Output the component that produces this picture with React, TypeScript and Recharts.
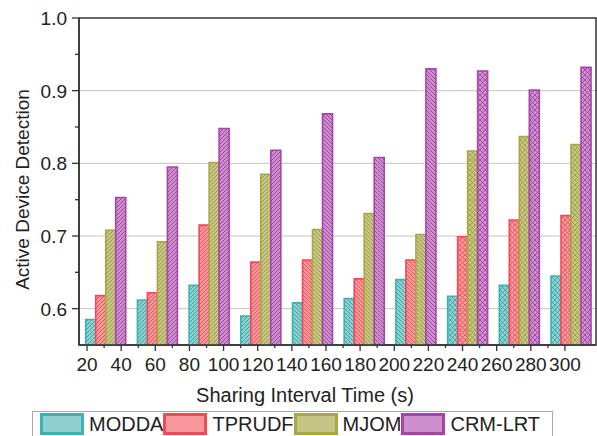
import React from 'react';
import * as Recharts from 'recharts';
import { BarChart, Bar, Cell, XAxis, YAxis, CartesianGrid, Legend } from 'recharts';

// bar groups (the time axis below is drawn separately with its own ticks)
const groups = ['g1', 'g2', 'g3', 'g4', 'g5', 'g6', 'g7', 'g8', 'g9', 'g10'];
const timeTicks = [20, 40, 60, 80, 100, 120, 140, 160, 180, 200, 220, 240, 260, 280, 300];
const timeRange = [15.3, 318.2];
const yTicks = [0.6, 0.7, 0.8, 0.9, 1.0];

const modda = [0.585, 0.612, 0.632, 0.59, 0.608, 0.614, 0.64, 0.617, 0.632, 0.645];
const tprudf = [0.618, 0.622, 0.715, 0.664, 0.667, 0.641, 0.667, 0.699, 0.722, 0.728];
const mjom = [0.708, 0.692, 0.801, 0.785, 0.709, 0.731, 0.702, 0.817, 0.837, 0.826];
const crmLrt = [0.753, 0.795, 0.848, 0.818, 0.868, 0.808, 0.93, 0.927, 0.901, 0.932];

const SERIES = [
  { key: 'modda', name: 'MODDA', fill: '#8fcfcf', stroke: '#3cb2b2', hatch: '#2fa2a2' },
  { key: 'tprudf', name: 'TPRUDF', fill: '#f6979c', stroke: '#f04a55', hatch: '#ec4c58' },
  { key: 'mjom', name: 'MJOM', fill: '#c6c588', stroke: '#a8a742', hatch: '#9c9b36' },
  { key: 'crmLrt', name: 'CRM-LRT', fill: '#cc90cc', stroke: '#a744a9', hatch: '#9c3a9e' },
];

const data = groups.map((group, i) => ({
  group,
  modda: modda[i],
  tprudf: tprudf[i],
  mjom: mjom[i],
  crmLrt: crmLrt[i],
}));

// minor ticks sit halfway between the labelled ones
const xTickAll = timeTicks.flatMap((t, i) => (i < timeTicks.length - 1 ? [t, t + 10] : [t]));
const yTickAll = [0.6, 0.65, 0.7, 0.75, 0.8, 0.85, 0.9, 0.95, 1.0];

const FONT = '"Liberation Sans", Arial, sans-serif';

const hatchKind = (i: number) => (i < 4 ? 'fwd' : i < 7 ? 'back' : 'cross');

const YTick = (props: any) => {
  const { x, y, payload } = props;
  const v = payload.value;
  const major = yTicks.some(t => Math.abs(t - v) < 1e-6);
  return (
    <g>
      <line x1={x - (major ? 7 : 4)} x2={x} y1={y} y2={y} stroke="#333" strokeWidth={1.3} />
      {major && (
        <text x={x - 12} y={y} dy="0.36em" textAnchor="end" fontSize={19} fill="#222" fontFamily={FONT}>
          {v.toFixed(1)}
        </text>
      )}
    </g>
  );
};

const XTick = (props: any) => {
  const { x, y, payload } = props;
  const major = timeTicks.includes(payload.value);
  return (
    <g>
      <line x1={x} x2={x} y1={y} y2={y + (major ? 6 : 3)} stroke="#333" strokeWidth={1.3} />
      {major && (
        <text x={x} y={y + 26} textAnchor="middle" fontSize={19} fill="#222" fontFamily={FONT}>
          {payload.value}
        </text>
      )}
    </g>
  );
};

// plot frame drawn from the chart's own plot area
const usePlotArea: any = (Recharts as any).usePlotArea;
const PlotFrame = () => {
  const area = usePlotArea ? usePlotArea() : null;
  if (!area) return null;
  return (
    <rect
      x={area.x}
      y={area.y}
      width={area.width}
      height={area.height}
      fill="none"
      stroke="#333"
      strokeWidth={1.5}
    />
  );
};

const LegendBox = () => (
  <div
    style={{
      marginLeft: 32,
      width: 521,
      height: 25,
      boxSizing: 'border-box',
      border: '1px solid #a8a8a8',
      borderBottom: 'none',
      display: 'flex',
      alignItems: 'flex-start',
      paddingLeft: 7,
      paddingTop: 1,
      fontFamily: FONT,
      fontSize: 20,
      color: '#222',
    }}
  >
    {SERIES.map(s => (
      <div key={s.key} style={{ display: 'flex', alignItems: 'center' }}>
        <span
          style={{
            width: 44,
            height: 22,
            boxSizing: 'border-box',
            background: s.fill,
            border: `3px solid ${s.stroke}`,
          }}
        />
        <span style={{ marginLeft: 5, lineHeight: '22px' }}>{s.name}</span>
      </div>
    ))}
  </div>
);

export default function App() {
  return (
    <div style={{ position: 'absolute', left: 0, top: 0, background: '#fff' }}>
      <BarChart
        width={597}
        height={436}
        data={data}
        margin={{ top: 18, right: 1, left: 0, bottom: 0 }}
        barCategoryGap="13%"
        barGap={0}
        style={{ fontFamily: FONT }}
      >
        <defs>
          {SERIES.map(s => (
            <React.Fragment key={s.key}>
              <pattern id={`p-${s.key}-fwd`} patternUnits="userSpaceOnUse" width={4} height={4}>
                <rect width={4} height={4} fill={s.fill} />
                <path d="M-1,1 l2,-2 M0,4 l4,-4 M3,5 l2,-2" stroke={s.hatch} strokeWidth={0.9} />
              </pattern>
              <pattern id={`p-${s.key}-back`} patternUnits="userSpaceOnUse" width={4} height={4}>
                <rect width={4} height={4} fill={s.fill} />
                <path d="M-1,3 l2,2 M0,0 l4,4 M3,-1 l2,2" stroke={s.hatch} strokeWidth={0.9} />
              </pattern>
              <pattern id={`p-${s.key}-cross`} patternUnits="userSpaceOnUse" width={5} height={5}>
                <rect width={5} height={5} fill={s.fill} />
                <path
                  d="M-1,1 l2,-2 M0,5 l5,-5 M4,6 l2,-2 M-1,4 l2,2 M0,0 l5,5 M4,-1 l2,2"
                  stroke={s.hatch}
                  strokeWidth={0.8}
                />
              </pattern>
            </React.Fragment>
          ))}
        </defs>
        <CartesianGrid
          xAxisId="cat"
          yAxisId="left"
          vertical={false}
          horizontalValues={[0.6, 0.7, 0.8, 0.9]}
          stroke="#c4c4c4"
        />
        {/* scale-only axis: the rows carry no "time" field, the domain is fixed */}
        <XAxis
          xAxisId="time"
          type="number"
          dataKey="time"
          domain={timeRange}
          allowDataOverflow
          ticks={xTickAll}
          interval={0}
          tick={<XTick />}
          tickLine={false}
          tickSize={0}
          tickMargin={0}
          height={66}
          axisLine={{ stroke: '#333', strokeWidth: 1.5 }}
          label={(p: any) => {
            const vb = p.viewBox;
            return (
              <text x={vb.x + 226} y={vb.y + 57} textAnchor="middle" fontSize={20} fill="#222" fontFamily={FONT}>
                Sharing Interval Time (s)
              </text>
            );
          }}
        />
        <XAxis xAxisId="cat" dataKey="group" hide height={0} />
        <YAxis
          yAxisId="left"
          domain={[0.55, 1]}
          allowDataOverflow
          ticks={yTickAll}
          interval={0}
          width={79}
          tick={<YTick />}
          tickLine={false}
          tickSize={0}
          tickMargin={0}
          axisLine={{ stroke: '#333', strokeWidth: 1.5 }}
          label={(p: any) => {
            const vb = p.viewBox;
            const cx = vb.x + 22;
            const cy = vb.y + vb.height / 2 + 8;
            return (
              <text
                x={cx}
                y={cy}
                transform={`rotate(-90, ${cx}, ${cy})`}
                textAnchor="middle"
                dominantBaseline="central"
                fontSize={19}
                fill="#222"
                fontFamily={FONT}
              >
                Active Device Detection
              </text>
            );
          }}
        />
        {SERIES.map(s => (
          <Bar
            key={s.key}
            dataKey={s.key}
            name={s.name}
            xAxisId="cat"
            yAxisId="left"
            stroke={s.stroke}
            strokeWidth={1.6}
            isAnimationActive={false}
          >
            {data.map((_, i) => (
              <Cell key={`${s.key}-${i}`} fill={`url(#p-${s.key}-${hatchKind(i)})`} />
            ))}
          </Bar>
        ))}
        <PlotFrame />
        <Legend verticalAlign="bottom" height={25} wrapperStyle={{ left: 0, width: 597 }} content={<LegendBox />} />
      </BarChart>
    </div>
  );
}
